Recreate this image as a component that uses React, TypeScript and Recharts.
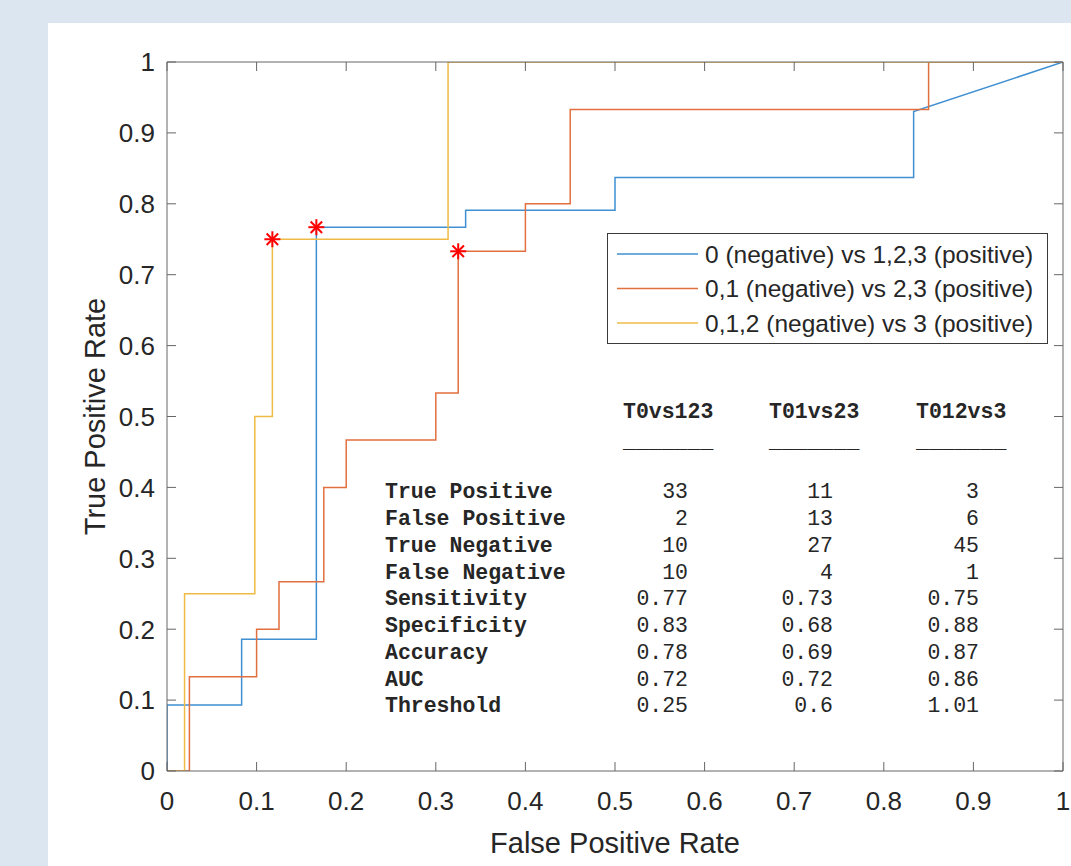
import React from 'react';
import {
  ComposedChart,
  Line,
  Scatter,
  XAxis,
  YAxis,
  Legend,
} from 'recharts';

// ROC points (false positive rate / true positive rate)
const fpr0vs123 = [0, 0, 0.0833, 0.0833, 0.1667, 0.1667, 0.3333, 0.3333, 0.5, 0.5, 0.8333, 0.8333, 1];
const tpr0vs123 = [0, 0.093, 0.093, 0.186, 0.186, 0.767, 0.767, 0.791, 0.791, 0.837, 0.837, 0.93, 1];

const fpr01vs23 = [0, 0.025, 0.025, 0.1, 0.1, 0.125, 0.125, 0.175, 0.175, 0.2, 0.2, 0.3, 0.3, 0.325, 0.325, 0.4, 0.4, 0.45, 0.45, 0.85, 0.85, 1];
const tpr01vs23 = [0, 0, 0.133, 0.133, 0.2, 0.2, 0.267, 0.267, 0.4, 0.4, 0.467, 0.467, 0.533, 0.533, 0.733, 0.733, 0.8, 0.8, 0.933, 0.933, 1, 1];

const fpr012vs3 = [0, 0.0196, 0.0196, 0.098, 0.098, 0.1176, 0.1176, 0.3137, 0.3137, 1];
const tpr012vs3 = [0, 0, 0.25, 0.25, 0.5, 0.5, 0.75, 0.75, 1, 1];

// operating points (red asterisks)
const optFpr = [0.1667, 0.325, 0.1176];
const optTpr = [0.767, 0.733, 0.75];

const seriesNames = [
  '0 (negative) vs 1,2,3 (positive)',
  '0,1 (negative) vs 2,3 (positive)',
  '0,1,2 (negative) vs 3 (positive)',
];

const axisTicks = [0, 0.1, 0.2, 0.3, 0.4, 0.5, 0.6, 0.7, 0.8, 0.9, 1];

const tableHeaders = ['T0vs123', 'T01vs23', 'T012vs3'];
const metricLabels = [
  'True Positive',
  'False Positive',
  'True Negative',
  'False Negative',
  'Sensitivity',
  'Specificity',
  'Accuracy',
  'AUC',
  'Threshold',
];
const colT0vs123 = ['33', '2', '10', '10', '0.77', '0.83', '0.78', '0.72', '0.25'];
const colT01vs23 = ['11', '13', '27', '4', '0.73', '0.68', '0.69', '0.72', '0.6'];
const colT012vs3 = ['3', '6', '45', '1', '0.75', '0.88', '0.87', '0.86', '1.01'];

const toPoints = (xs: number[], ys: number[]) => xs.map((x, i) => ({ x, y: ys[i] }));

const SANS = '"Liberation Sans", Arial, Helvetica, sans-serif';
const MONO = '"Liberation Mono", "Courier New", monospace';
const AXIS = '#666';
const TEXT = '#262626';
const TICK = 9;

const COLORS = ['#3f8fd2', '#e2703f', '#efbb44'];

const fmt = (v: number) => (v === 0 ? '0' : v === 1 ? '1' : v.toFixed(1));

const BottomTick = (p: any) => (
  <g>
    <line x1={p.x} y1={p.y} x2={p.x} y2={p.y - TICK} stroke={AXIS} />
    <text x={p.x} y={p.y + 39} textAnchor="middle" fontSize={26} fill={TEXT} fontFamily={SANS}>
      {fmt(p.payload.value)}
    </text>
  </g>
);

const LeftTick = (p: any) => (
  <g>
    <line x1={p.x} y1={p.y} x2={p.x + TICK} y2={p.y} stroke={AXIS} />
    <text x={p.x - 12} y={p.y} dy="0.36em" textAnchor="end" fontSize={26} fill={TEXT} fontFamily={SANS}>
      {fmt(p.payload.value)}
    </text>
  </g>
);

const TopTick = (p: any) => <line x1={p.x} y1={p.y} x2={p.x} y2={p.y + TICK} stroke={AXIS} />;
const RightTick = (p: any) => <line x1={p.x} y1={p.y} x2={p.x - TICK} y2={p.y} stroke={AXIS} />;

const Asterisk = (p: any) => {
  const { cx, cy } = p;
  const r = 8;
  const d = r * 0.72;
  return (
    <g stroke="#ff0000" strokeWidth={2}>
      <line x1={cx - r} y1={cy} x2={cx + r} y2={cy} />
      <line x1={cx} y1={cy - r} x2={cx} y2={cy + r} />
      <line x1={cx - d} y1={cy - d} x2={cx + d} y2={cy + d} />
      <line x1={cx - d} y1={cy + d} x2={cx + d} y2={cy - d} />
    </g>
  );
};

const renderLegend = (props: any) => {
  const items = (props.payload || []).filter((e: any) => e.type !== 'none');
  return (
    <svg width={441} height={111} style={{ display: 'block' }}>
      <rect x={0.5} y={0.5} width={440} height={110} fill="#fff" stroke="#3a3a3a" />
      {items.map((e: any, i: number) => {
        const y = 21 + i * 34.5;
        return (
          <g key={e.value}>
            <line x1={10} x2={91} y1={y} y2={y} stroke={e.color} strokeWidth={1.5} />
            <text x={98} y={y} dy="0.36em" fontSize={24.5} fill={TEXT} fontFamily={SANS}>
              {e.value}
            </text>
          </g>
        );
      })}
    </svg>
  );
};

const rowY = [498, 525, 552, 579, 605, 632, 659, 686, 712];
const colX = [623, 769, 916];
const colRight = [688, 833, 979];
const columns = [colT0vs123, colT01vs23, colT012vs3];

export default function App() {
  const curves = [
    toPoints(fpr0vs123, tpr0vs123),
    toPoints(fpr01vs23, tpr01vs23),
    toPoints(fpr012vs3, tpr012vs3),
  ];
  const optimal = toPoints(optFpr, optTpr);

  return (
    <div
      style={{
        position: 'absolute',
        left: 0,
        top: 0,
        width: 1071,
        height: 866,
        background: '#dce6f1',
        overflow: 'hidden',
      }}
    >
      <div style={{ position: 'absolute', left: 48, top: 23, width: 1023, height: 843, background: '#fff' }} />
      <div style={{ position: 'absolute', left: 0, top: 0 }}>
        <ComposedChart width={1071} height={866} margin={{ top: 61, right: 0, bottom: 0, left: 0 }}>
          <XAxis
            xAxisId="b"
            dataKey="x"
            type="number"
            domain={[0, 1]}
            ticks={axisTicks}
            allowDataOverflow
            height={95}
            tickSize={0}
            tickMargin={0}
            tickLine={false}
            tick={BottomTick}
            stroke={AXIS}
            interval={0}
            label={{
              content: (lp: any) => (
                <text
                  x={lp.viewBox.x + lp.viewBox.width / 2}
                  y={lp.viewBox.y + 82}
                  textAnchor="middle"
                  fontSize={29}
                  fill={TEXT}
                  fontFamily={SANS}
                >
                  False Positive Rate
                </text>
              ),
            }}
          />
          <XAxis
            xAxisId="t"
            orientation="top"
            dataKey="x"
            type="number"
            domain={[0, 1]}
            ticks={axisTicks}
            allowDataOverflow
            height={1}
            tickSize={0}
            tickMargin={0}
            tickLine={false}
            tick={TopTick}
            stroke={AXIS}
            interval={0}
          />
          <YAxis
            yAxisId="l"
            dataKey="y"
            type="number"
            domain={[0, 1]}
            ticks={axisTicks}
            allowDataOverflow
            width={167}
            tickSize={0}
            tickMargin={0}
            tickLine={false}
            tick={LeftTick}
            stroke={AXIS}
            interval={0}
            label={{
              content: (lp: any) => {
                const cx = 95;
                const cy = lp.viewBox.y + lp.viewBox.height / 2;
                return (
                  <text
                    x={cx}
                    y={cy}
                    dy="0.36em"
                    transform={`rotate(-90 ${cx} ${cy})`}
                    textAnchor="middle"
                    fontSize={29}
                    fill={TEXT}
                    fontFamily={SANS}
                  >
                    True Positive Rate
                  </text>
                );
              },
            }}
          />
          <YAxis
            yAxisId="r"
            orientation="right"
            type="number"
            domain={[0, 1]}
            ticks={axisTicks}
            allowDataOverflow
            width={8}
            tickSize={0}
            tickMargin={0}
            tickLine={false}
            tick={RightTick}
            stroke={AXIS}
            interval={0}
          />
          {curves.map((pts, i) => (
            <Line
              key={seriesNames[i]}
              xAxisId="b"
              yAxisId="l"
              data={pts}
              dataKey="y"
              name={seriesNames[i]}
              type="linear"
              stroke={COLORS[i]}
              strokeWidth={1.5}
              dot={false}
              activeDot={false}
              isAnimationActive={false}
            />
          ))}
          <Scatter
            xAxisId="b"
            yAxisId="l"
            data={optimal}
            dataKey="y"
            legendType="none"
            shape={Asterisk}
            isAnimationActive={false}
          />
          <Legend
            layout="vertical"
            align="center"
            verticalAlign="middle"
            content={renderLegend}
            wrapperStyle={{ left: 607, top: 233, width: 441, height: 111 }}
          />
        </ComposedChart>
      </div>
      <svg
        width={1071}
        height={866}
        style={{ position: 'absolute', left: 0, top: 0, pointerEvents: 'none' }}
      >
        {tableHeaders.map((h, c) => (
          <g key={h}>
            <text x={colX[c]} y={418} fontSize={21.5} fontWeight="bold" fill={TEXT} fontFamily={MONO}>
              {h}
            </text>
            <text x={colX[c]} y={448} fontSize={21.5} fill={TEXT} fontFamily={MONO}>
              _______
            </text>
          </g>
        ))}
        {metricLabels.map((m, r) => (
          <g key={m}>
            <text x={385} y={rowY[r]} fontSize={21.5} fontWeight="bold" fill={TEXT} fontFamily={MONO}>
              {m}
            </text>
            {columns.map((col, c) => (
              <text
                key={c}
                x={colRight[c]}
                y={rowY[r]}
                textAnchor="end"
                fontSize={21.5}
                fill={TEXT}
                fontFamily={MONO}
              >
                {col[r]}
              </text>
            ))}
          </g>
        ))}
      </svg>
    </div>
  );
}
